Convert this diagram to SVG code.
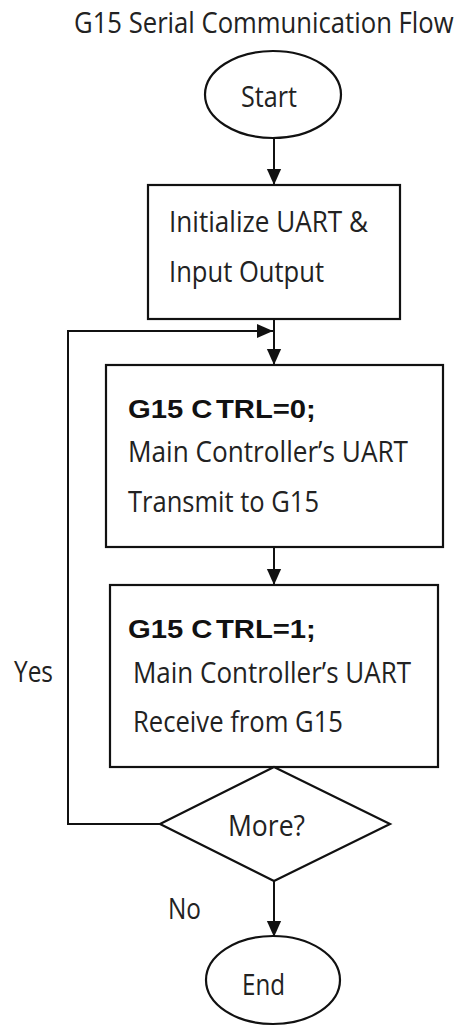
<svg xmlns="http://www.w3.org/2000/svg" width="458" height="1026" viewBox="0 0 458 1026">
<style>
.shape{fill:#fff;stroke:#111;stroke-width:2.2}
.conn{fill:none;stroke:#111;stroke-width:2}
.t{font-family:"Open Sans","Noto Sans",sans-serif;font-size:29px;fill:#222}
.b{font-family:"Liberation Sans",Arial,sans-serif;font-weight:bold;font-size:25px;fill:#111}
</style>
<defs>
<marker id="ah" markerUnits="userSpaceOnUse" markerWidth="16" markerHeight="20" viewBox="0 0 18 16" refX="18" refY="8" orient="auto">
<path d="M0,0 L18,8 L0,16 Z" fill="#111"/>
</marker>
</defs>
<rect width="458" height="1026" fill="#fff"/>
<text class="t" transform="translate(74 33) scale(0.885 1)" font-size="28" fill="#333">G15 Serial Communication Flow</text>
<g id="connectors">
<line class="conn" x1="274" y1="138" x2="274" y2="185" marker-end="url(#ah)"/>
<line class="conn" x1="274" y1="319" x2="274" y2="365" marker-end="url(#ah)"/>
<path class="conn" d="M160,824 H68 V331 H273" marker-end="url(#ah)"/>
<line class="conn" x1="274" y1="547" x2="274" y2="585" marker-end="url(#ah)"/>
<line class="conn" x1="274" y1="881" x2="274" y2="937" marker-end="url(#ah)"/>
<text class="t" x="14" y="682" textLength="39" lengthAdjust="spacingAndGlyphs">Yes</text>
<text class="t" x="168" y="919" textLength="33" lengthAdjust="spacingAndGlyphs">No</text>
</g>
<g id="start">
<ellipse class="shape" cx="273" cy="94.5" rx="68" ry="43.5"/>
<text class="t" x="241" y="107" textLength="56" lengthAdjust="spacingAndGlyphs">Start</text>
</g>
<g id="init">
<rect class="shape" x="148" y="185" width="252" height="134"/>
<text class="t" x="169" y="232" textLength="199" lengthAdjust="spacingAndGlyphs">Initialize UART &amp;</text>
<text class="t" x="169" y="282" textLength="155" lengthAdjust="spacingAndGlyphs">Input Output</text>
</g>
<g id="transmit">
<rect class="shape" x="106" y="365" width="337" height="182"/>
<text class="b" transform="translate(128 418) scale(1.17 1)">G15 C<tspan dx="3">TRL=0;</tspan></text>
<text class="t" x="128" y="462" textLength="280" lengthAdjust="spacingAndGlyphs">Main Controller’s UART</text>
<text class="t" x="128" y="512" textLength="191" lengthAdjust="spacingAndGlyphs">Transmit to G15</text>
</g>
<g id="receive">
<rect class="shape" x="110" y="585" width="328" height="182"/>
<text class="b" transform="translate(128 638) scale(1.17 1)">G15 C<tspan dx="3">TRL=1;</tspan></text>
<text class="t" x="133" y="683" textLength="278" lengthAdjust="spacingAndGlyphs">Main Controller’s UART</text>
<text class="t" x="133" y="732" textLength="210" lengthAdjust="spacingAndGlyphs">Receive from G15</text>
</g>
<g id="more">
<polygon class="shape" points="274,767 390,824 274,881 160,824"/>
<text class="t" x="228" y="836" textLength="77" lengthAdjust="spacingAndGlyphs">More?</text>
</g>
<g id="end">
<ellipse class="shape" cx="273" cy="980" rx="67" ry="44"/>
<text class="t" x="242" y="995" textLength="43" lengthAdjust="spacingAndGlyphs">End</text>
</g>
</svg>
